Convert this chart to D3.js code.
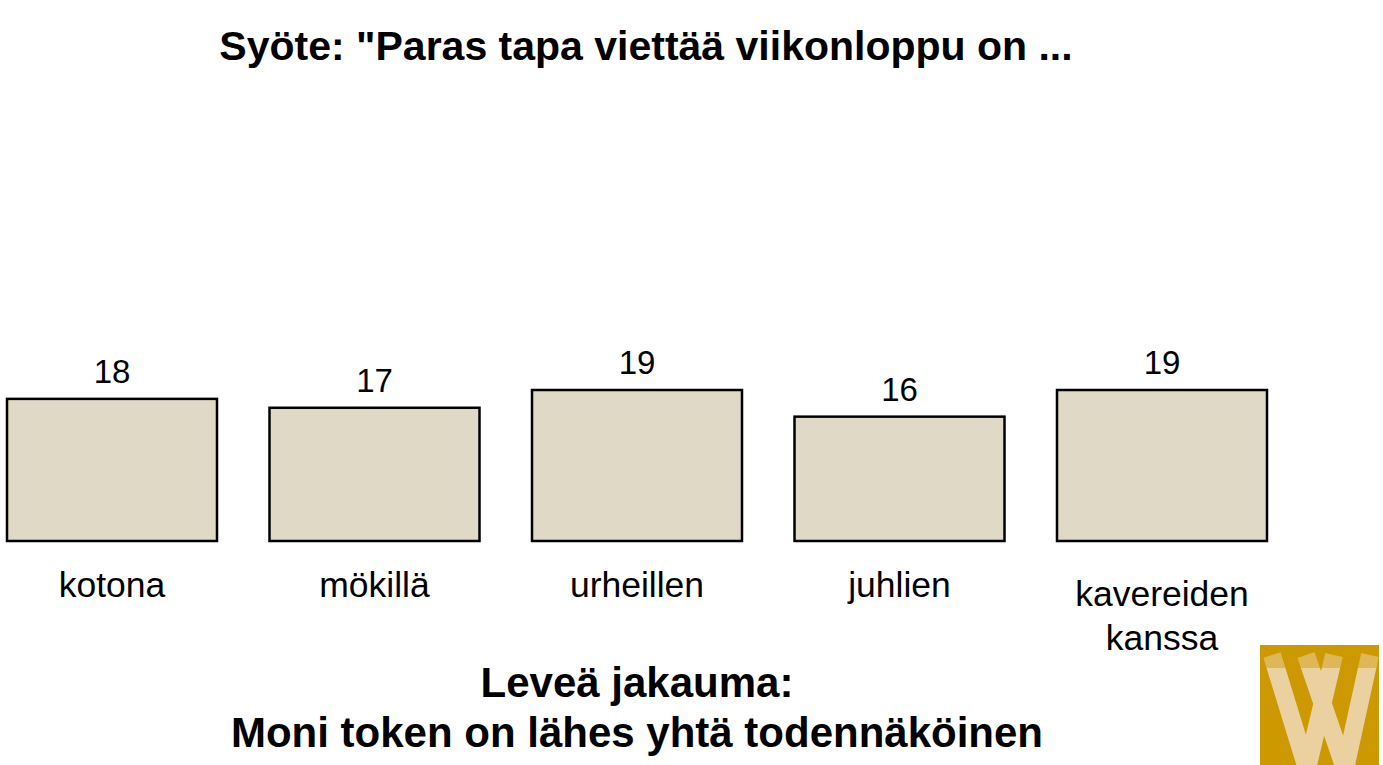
<!DOCTYPE html>
<html>
<head>
<meta charset="utf-8">
<script src="https://cdn.jsdelivr.net/npm/d3@7"></script>
<style>
  body { margin: 0; background: #fff; }
  text { font-family: "Liberation Sans", Arial, Helvetica, sans-serif; }
</style>
</head>
<body>
<script>
// data
var tokens = ["kotona", "mökillä", "urheillen", "juhlien", "kavereiden kanssa"];
var tokenLines = [["kotona"], ["mökillä"], ["urheillen"], ["juhlien"], ["kavereiden", "kanssa"]];
var shares = [18, 17, 19, 16, 19];
var title = 'Syöte: "Paras tapa viettää viikonloppu on ...';
var caption = ["Leveä jakauma:", "Moni token on lähes yhtä todennäköinen"];

var width = 1383, height = 765;
var baseY = 541;

var svg = d3.select("body").append("svg")
  .attr("width", width)
  .attr("height", height);

// scales
var x = d3.scaleBand()
  .domain(tokens)
  .range([7, 1267])
  .paddingInner(0.2);
var y = d3.scaleLinear().domain([2, 19]).range([baseY, 390]);

var data = tokens.map(function (t, i) {
  return { token: t, value: shares[i], lines: tokenLines[i] };
});

// title
svg.append("text")
  .attr("x", 646)
  .attr("y", 60)
  .attr("text-anchor", "middle")
  .style("font-size", "41px")
  .style("font-weight", "bold")
  .text(title);

// bars
svg.selectAll(".bar")
  .data(data)
  .enter()
  .append("rect")
  .attr("class", "bar")
  .attr("x", function (d) { return x(d.token); })
  .attr("y", function (d) { return y(d.value); })
  .attr("width", x.bandwidth())
  .attr("height", function (d) { return baseY - y(d.value); })
  .style("fill", "#e0d9c6")
  .style("stroke", "#000")
  .style("stroke-width", 2.5);

// value labels
svg.selectAll(".val")
  .data(data)
  .enter()
  .append("text")
  .attr("class", "val")
  .attr("x", function (d) { return x(d.token) + x.bandwidth() / 2; })
  .attr("y", function (d) { return y(d.value) - 16; })
  .attr("text-anchor", "middle")
  .style("font-size", "33px")
  .text(function (d) { return d.value; });

// category labels
var lab = svg.selectAll(".lab")
  .data(data)
  .enter()
  .append("text")
  .attr("class", "lab")
  .attr("text-anchor", "middle")
  .attr("y", function (d) { return 597 + (d.lines.length - 1) * 9; })
  .style("font-size", "35.5px");

lab.selectAll("tspan")
  .data(function (d) {
    return d.lines.map(function (l) { return { line: l, cx: x(d.token) + x.bandwidth() / 2 }; });
  })
  .enter()
  .append("tspan")
  .attr("x", function (d) { return d.cx; })
  .attr("dy", function (d, i) { return i === 0 ? 0 : 44; })
  .text(function (d) { return d.line; });

// bottom caption
svg.selectAll(".cap")
  .data(caption)
  .enter()
  .append("text")
  .attr("class", "cap")
  .attr("x", 637)
  .attr("y", function (d, i) { return 697 + i * 50; })
  .attr("text-anchor", "middle")
  .style("font-size", "42px")
  .style("font-weight", "bold")
  .text(function (d) { return d; });

// logo in the corner
var logo = svg.append("g").attr("transform", "translate(1260,645)");
logo.append("clipPath").attr("id", "logoclip")
  .append("rect").attr("width", 119).attr("height", 120);
var lg = logo.append("g").attr("clip-path", "url(#logoclip)");
lg.append("rect").attr("width", 119).attr("height", 120).style("fill", "#cc9900");
var vLine = d3.line();
[[[12, 10], [47, 124], [74, 10]], [[46, 10], [85, 124], [110, 10]]].forEach(function (pts) {
  lg.append("path")
    .attr("d", vLine(pts))
    .style("fill", "none")
    .style("stroke", "#ebd0a0")
    .style("stroke-width", 18)
    .style("stroke-linejoin", "miter");
});
lg.append("rect")
  .attr("width", 119)
  .attr("height", 23)
  .style("fill", "#cc9900")
  .style("opacity", 0.45);
</script>
</body>
</html>
